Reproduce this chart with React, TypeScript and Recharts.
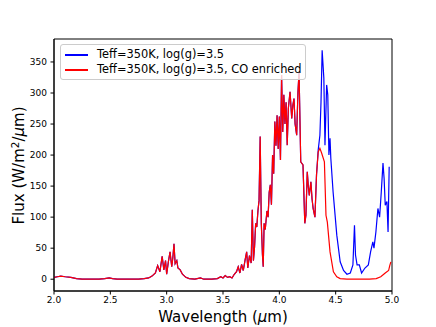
import React from "react";
import { LineChart, Line, XAxis, YAxis, ReferenceArea, Label } from "recharts";

// Wavelength grid (µm) and flux (W/m²/µm) for the CO-enriched model
const wavelength = [
  2.0, 2.03, 2.06, 2.1, 2.15, 2.2, 2.25, 2.3, 2.35, 2.4, 2.45, 2.49, 2.52, 2.56, 2.6, 2.65, 2.7, 2.75, 2.8, 2.84,
  2.87, 2.9, 2.92, 2.94, 2.96, 2.975, 2.99, 3.0, 3.015, 3.03, 3.045, 3.055, 3.065, 3.075, 3.09, 3.1, 3.12, 3.14,
  3.17, 3.2, 3.25, 3.3, 3.33, 3.4, 3.45, 3.48, 3.5, 3.52, 3.54, 3.56, 3.58, 3.6, 3.62, 3.635, 3.65, 3.665, 3.68,
  3.695, 3.71, 3.72, 3.735, 3.75, 3.76, 3.77, 3.78, 3.79, 3.8, 3.81, 3.82, 3.83, 3.84, 3.85, 3.857, 3.865, 3.875,
  3.89, 3.9, 3.91, 3.92, 3.93, 3.94, 3.95, 3.96, 3.97, 3.98, 3.99, 4.0, 4.01, 4.02, 4.03, 4.04, 4.05, 4.06, 4.07,
  4.08, 4.095, 4.11, 4.12, 4.13, 4.14, 4.154, 4.165, 4.175, 4.19, 4.21, 4.226, 4.236, 4.248, 4.257, 4.266, 4.28,
  4.29, 4.3, 4.316, 4.33, 4.345, 4.36, 4.376, 4.4, 4.414, 4.426, 4.45, 4.48, 4.51, 4.54, 4.6, 4.7, 4.8, 4.86, 4.9,
  4.94, 4.97, 4.98, 4.99,
];
const fluxCO = [
  3, 4, 5, 4, 3, 1, 0, 0, 0, 0, 1, 2, 1, 0, 0, 0, 0, 0, 1, 2,
  5, 10, 22, 12, 37, 15, 30, 8, 28, 44, 20, 35, 57, 25, 30, 18, 15, 8,
  3, 1, 0, 2, 0, 0, 1, 4, 2, 6, 3, 4, 2, 8, 12, 20, 10, 24, 14,
  30, 44, 18, 38, 26, 112, 30, 52, 90, 84, 110, 127, 230, 90, 40, 20, 90, 80,
  110, 100, 140, 152, 120, 200, 170, 254, 215, 264, 210, 262, 192, 329, 237, 297, 250, 285, 216,
  275, 302, 259, 280, 291, 250, 232, 300, 334, 189, 184, 90, 103, 173, 150, 135, 157,
  130, 114, 100, 168, 205, 211, 203, 189, 103, 92, 44, 12, 4, 1, 0, 0, 0, 1, 4,
  10, 14, 22, 28,
];

// Standard model diverges from the CO-enriched one beyond this wavelength
const splitWavelength = 4.33;
const wavelengthStd = [
  4.33, 4.345, 4.36, 4.37, 4.38, 4.395, 4.405, 4.42, 4.43, 4.44, 4.45, 4.457, 4.477, 4.51, 4.54, 4.57, 4.6, 4.63,
  4.653, 4.667, 4.676, 4.69, 4.71, 4.73, 4.76, 4.79, 4.81, 4.83, 4.84, 4.857, 4.875, 4.89, 4.905, 4.92, 4.93, 4.94,
  4.955, 4.965, 4.975,
];
const fluxStd = [
  168, 208, 232, 286, 369, 324, 216, 313, 297, 200, 227, 195, 141, 71, 28, 14, 8, 10,
  23, 87, 39, 23, 23, 10, 18, 23, 44, 60, 50, 76, 114, 100, 141, 187, 162, 119,
  125, 76, 181,
];

const xTicks = [2.0, 2.5, 3.0, 3.5, 4.0, 4.5, 5.0];
const yTicks = [0, 50, 100, 150, 200, 250, 300, 350];
const legendLabels = ["Teff=350K, log(g)=3.5", "Teff=350K, log(g)=3.5, CO enriched"];
const colors = ["#0000ff", "#ff0000"];

const coData = wavelength.map((x, i) => ({ x, y: fluxCO[i] }));
const stdData = coData
  .filter((d) => d.x < splitWavelength)
  .concat(wavelengthStd.map((x, i) => ({ x, y: fluxStd[i] })));

const FONT = "'DejaVu Sans', sans-serif";

export default function App() {
  return (
    <div style={{ position: "absolute", left: 0, top: 0, width: 436, height: 327, background: "#fff", fontFamily: FONT }}>
      <LineChart width={436} height={327} margin={{ top: 39, right: 44, left: 0, bottom: 0 }}>
        <XAxis
          type="number"
          dataKey="x"
          domain={[2, 5]}
          ticks={xTicks}
          allowDataOverflow
          height={36}
          tickSize={3.5}
          tickMargin={2}
          tickFormatter={(v: number) => v.toFixed(1)}
          tick={{ fill: "#000", fontSize: 9, fontFamily: FONT }}
          tickLine={{ stroke: "#000" }}
          axisLine={{ stroke: "#000" }}
        >
          <Label
            content={() => (
              <text x={223} y={321.5} textAnchor="middle" fontSize={15} fontFamily={FONT} fill="#000">
                Wavelength (<tspan fontStyle="italic">μ</tspan>m)
              </text>
            )}
          />
        </XAxis>
        <YAxis
          type="number"
          domain={[-19, 387]}
          ticks={yTicks}
          allowDataOverflow
          width={54}
          tickSize={3.5}
          tickMargin={3.5}
          tick={{ fill: "#000", fontSize: 9, fontFamily: FONT }}
          tickLine={{ stroke: "#000" }}
          axisLine={{ stroke: "#000" }}
        >
          <Label
            content={() => (
              <text
                x={0}
                y={0}
                transform="translate(23.5,165.5) rotate(-90)"
                textAnchor="middle"
                fontSize={15}
                fontFamily={FONT}
                fill="#000"
              >
                Flux (W/m<tspan dy={-5} fontSize={10.5}>2</tspan>
                <tspan dy={5}>/</tspan>
                <tspan fontStyle="italic">μ</tspan>m)
              </text>
            )}
          />
        </YAxis>
        <ReferenceArea x1={2} x2={5} y1={-19} y2={387} fill="none" stroke="#000" strokeWidth={1} ifOverflow="visible" />
        <Line
          data={stdData}
          dataKey="y"
          type="linear"
          stroke={colors[0]}
          strokeWidth={1.2}
          dot={false}
          isAnimationActive={false}
        />
        <Line
          data={coData}
          dataKey="y"
          type="linear"
          stroke={colors[1]}
          strokeWidth={1.2}
          dot={false}
          isAnimationActive={false}
        />
      </LineChart>
      <div
        style={{
          position: "absolute",
          left: 60,
          top: 44,
          width: 246,
          height: 36,
          boxSizing: "border-box",
          background: "rgba(255,255,255,0.8)",
          border: "1px solid #cccccc",
          borderRadius: 3,
          fontSize: 11.4,
          color: "#000",
          fontFamily: FONT,
        }}
      >
        {legendLabels.map((label, i) => (
          <div key={label} style={{ position: "absolute", left: 0, top: i * 15 + 2, height: 15, width: "100%" }}>
            <div style={{ position: "absolute", left: 4, top: 7, width: 23, height: 2, background: colors[i] }} />
            <div style={{ position: "absolute", left: 36, top: 0, lineHeight: "15px", whiteSpace: "nowrap" }}>{label}</div>
          </div>
        ))}
      </div>
    </div>
  );
}
